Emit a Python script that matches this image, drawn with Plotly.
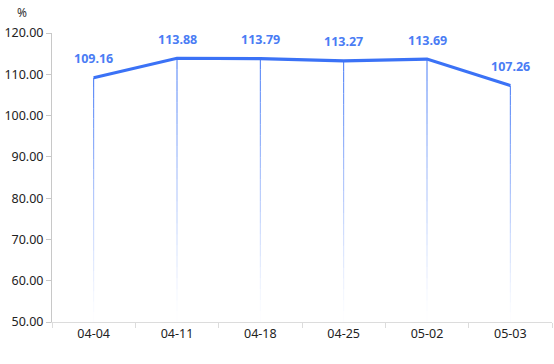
import plotly.graph_objects as go

categories = ["04-04", "04-11", "04-18", "04-25", "05-02", "05-03"]
values = [109.16, 113.88, 113.79, 113.27, 113.69, 107.26]
y_ticks = [50, 60, 70, 80, 90, 100, 110, 120]

LINE = "#3b72f6"
LABEL = "#4a7cf4"
FONT = "Noto Sans, Open Sans, sans-serif"

fig = go.Figure()

# gradient drop lines
N = 24
base = 50.0
for c, v in zip(categories, values):
    for i in range(N):
        y0 = v - (v - base) * i / N
        y1 = v - (v - base) * (i + 1) / N
        a = max(0.0, 1.0 - (i + 0.5) / N) ** 1.2
        fig.add_trace(go.Scatter(
            x=[c, c], y=[y0, y1], mode="lines",
            line=dict(color=f"rgba(59,114,246,{a:.3f})", width=1),
            hoverinfo="skip", showlegend=False))

fig.add_trace(go.Scatter(
    x=categories, y=values, mode="lines",
    line=dict(color=LINE, width=3.2), showlegend=False))

for c, v in zip(categories, values):
    fig.add_annotation(x=c, y=v, text=f"<b>{v:.2f}</b>", showarrow=False,
                       yshift=19, font=dict(family=FONT, size=12.5, color=LABEL))

fig.add_annotation(xref="paper", yref="paper", x=-0.06, y=1.0, yshift=21,
                   yanchor="middle", text="%", showarrow=False, xanchor="center",
                   font=dict(family=FONT, size=12, color="#333"))

fig.update_layout(
    width=554, height=364,
    margin=dict(l=52, r=2, t=33, b=42),
    paper_bgcolor="white", plot_bgcolor="white",
    font=dict(family=FONT, size=12.5, color="#333"),
)
fig.update_xaxes(type="category", categoryorder="array", categoryarray=categories,
                 range=[-0.5, 5.5], showgrid=False, showline=True, linecolor="#dcdcdc",
                 ticks="outside", tickson="boundaries", ticklen=5, tickcolor="#dcdcdc",
                 tickfont=dict(family=FONT, size=12.5, color="#222"), zeroline=False,
                 automargin=False)
fig.update_yaxes(range=[50, 120], tickvals=y_ticks, ticktext=[f"{t:.2f}" for t in y_ticks],
                 showgrid=False, showline=True, linecolor="#c8c8c8",
                 ticks="outside", ticklen=5, tickcolor="#c8c8c8",
                 tickfont=dict(family=FONT, size=12.5, color="#222"), zeroline=False,
                 automargin=False)

fig.write_html("out.html", config={"displayModeBar": False},
               post_script="document.body.style.margin='0';document.body.style.overflow='hidden';")
